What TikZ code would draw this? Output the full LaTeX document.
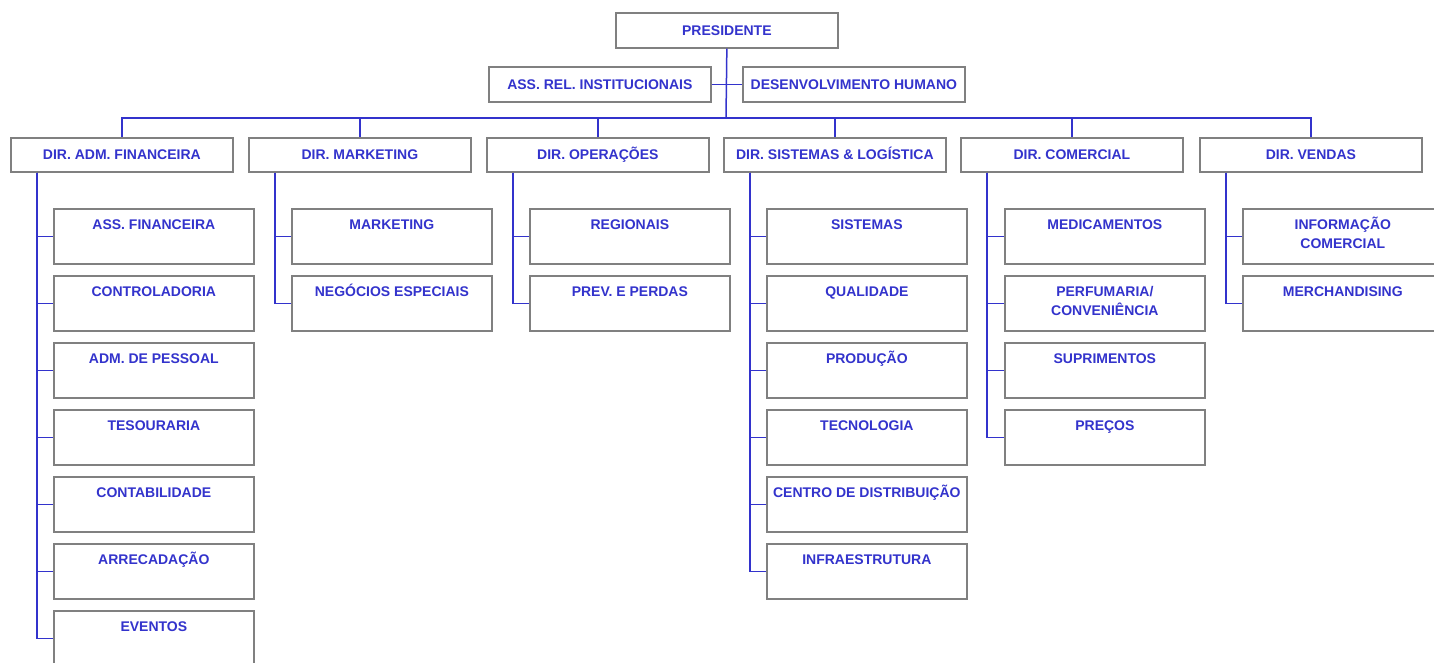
\documentclass[tikz,border=0pt]{standalone}
\usepackage{fontspec}
\setmainfont{Liberation Sans}
\definecolor{txtblue}{RGB}{51,51,204}
\definecolor{lineblue}{RGB}{51,51,204}
\definecolor{boxgray}{RGB}{128,128,128}
\begin{document}
\begin{tikzpicture}[x=1pt,y=-1pt,
  box/.style={draw=boxgray,line width=1.7pt,fill=white,anchor=north west,inner sep=0pt,
    text=txtblue,font=\bfseries\fontsize{14}{19}\selectfont,text height=10pt,text depth=0pt},
  topbox/.style={box,minimum width=222pt,minimum height=35pt},
  dirbox/.style={box,minimum width=222pt,minimum height=34pt},
  childbox/.style={box,minimum width=200pt,minimum height=55pt},
  ctext/.style={anchor=north,inner sep=0pt,align=center,text=txtblue,
    font=\bfseries\fontsize{14}{19}\selectfont},
  conn/.style={draw=lineblue,line width=1.5pt}]
\useasboundingbox (0,0) rectangle (1434,663);
\clip (0,0) rectangle (1434,663);
% top
\node[topbox] (pres) at (615,12) {PRESIDENTE};
\node[topbox] (assrel) at (488,66) {ASS. REL. INSTITUCIONAIS};
\node[topbox] (desenv) at (742,66) {DESENVOLVIMENTO HUMANO};
\coordinate (bus) at (726,118);
% directors
\node[dirbox] (d1) at (10,137) {DIR. ADM. FINANCEIRA};
\node[dirbox] (d2) at (248,137) {DIR. MARKETING};
\node[dirbox] (d3) at (486,137) {DIR. OPERAÇÕES};
\node[dirbox] (d4) at (723,137) {DIR. SISTEMAS \& LOGÍSTICA};
\node[dirbox] (d5) at (960,137) {DIR. COMERCIAL};
\node[dirbox] (d6) at (1199,137) {DIR. VENDAS};
% children of d1
\node[childbox] (a1) at (53,208) {};
\node[childbox] (a2) at (53,275) {};
\node[childbox] (a3) at (53,342) {};
\node[childbox] (a4) at (53,409) {};
\node[childbox] (a5) at (53,476) {};
\node[childbox] (a6) at (53,543) {};
\node[childbox] (a7) at (53,610) {};
% children of d2
\node[childbox] (b1) at (291,208) {};
\node[childbox] (b2) at (291,275) {};
% children of d3
\node[childbox] (o1) at (529,208) {};
\node[childbox] (o2) at (529,275) {};
% children of d4
\node[childbox] (s1) at (766,208) {};
\node[childbox] (s2) at (766,275) {};
\node[childbox] (s3) at (766,342) {};
\node[childbox] (s4) at (766,409) {};
\node[childbox] (s5) at (766,476) {};
\node[childbox] (s6) at (766,543) {};
% children of d5
\node[childbox] (m1) at (1004,208) {};
\node[childbox] (m2) at (1004,275) {};
\node[childbox] (m3) at (1004,342) {};
\node[childbox] (m4) at (1004,409) {};
% children of d6
\node[childbox] (v1) at (1242,208) {};
\node[childbox] (v2) at (1242,275) {};
% child texts
\newcommand{\ctxt}[3]{\node[ctext] (#1) at ([yshift=-8pt]#2.north) {\rule{0pt}{13pt}#3};}
\ctxt{ta1}{a1}{ASS. FINANCEIRA}
\ctxt{ta2}{a2}{CONTROLADORIA}
\ctxt{ta3}{a3}{ADM. DE PESSOAL}
\ctxt{ta4}{a4}{TESOURARIA}
\ctxt{ta5}{a5}{CONTABILIDADE}
\ctxt{ta6}{a6}{ARRECADAÇÃO}
\ctxt{ta7}{a7}{EVENTOS}
\ctxt{tb1}{b1}{MARKETING}
\ctxt{tb2}{b2}{NEGÓCIOS ESPECIAIS}
\ctxt{to1}{o1}{REGIONAIS}
\ctxt{to2}{o2}{PREV. E PERDAS}
\ctxt{ts1}{s1}{SISTEMAS}
\ctxt{ts2}{s2}{QUALIDADE}
\ctxt{ts3}{s3}{PRODUÇÃO}
\ctxt{ts4}{s4}{TECNOLOGIA}
\ctxt{ts5}{s5}{CENTRO DE DISTRIBUIÇÃO}
\ctxt{ts6}{s6}{INFRAESTRUTURA}
\ctxt{tm1}{m1}{MEDICAMENTOS}
\ctxt{tm2}{m2}{PERFUMARIA/\\CONVENIÊNCIA}
\ctxt{tm3}{m3}{SUPRIMENTOS}
\ctxt{tm4}{m4}{PREÇOS}
\ctxt{tv1}{v1}{INFORMAÇÃO\\COMERCIAL}
\ctxt{tv2}{v2}{MERCHANDISING}
% connectors top
\draw[conn] (pres.south) -- (bus);
\draw[conn] (assrel.east) -- (desenv.west);
\draw[conn] (d1.north) |- (bus) -| (d6.north);
\draw[conn] (d2.north) -- (d2.north |- bus);
\draw[conn] (d3.north) -- (d3.north |- bus);
\draw[conn] (d4.north) -- (d4.north |- bus);
\draw[conn] (d5.north) -- (d5.north |- bus);
% children connectors
\foreach \c in {a1,a2,a3,a4,a5,a6,a7} \draw[conn] (d1.south west) ++(27,0) |- (\c.west);
\foreach \c in {b1,b2} \draw[conn] (d2.south west) ++(27,0) |- (\c.west);
\foreach \c in {o1,o2} \draw[conn] (d3.south west) ++(27,0) |- (\c.west);
\foreach \c in {s1,s2,s3,s4,s5,s6} \draw[conn] (d4.south west) ++(27,0) |- (\c.west);
\foreach \c in {m1,m2,m3,m4} \draw[conn] (d5.south west) ++(27,0) |- (\c.west);
\foreach \c in {v1,v2} \draw[conn] (d6.south west) ++(27,0) |- (\c.west);
\end{tikzpicture}
\end{document}
